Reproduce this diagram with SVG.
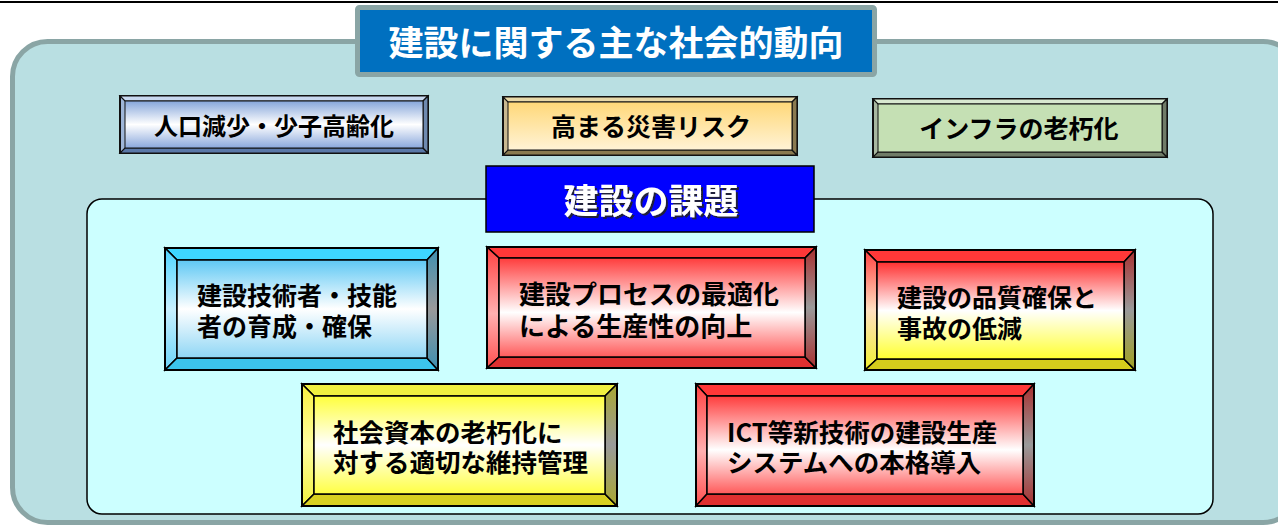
<svg xmlns="http://www.w3.org/2000/svg" width="1278" height="526" viewBox="0 0 1278 526">
<defs>
<style>
.t{font-family:"Noto Sans CJK JP","Noto Sans",sans-serif;font-weight:bold;fill:#000}
.tw{font-family:"Noto Sans CJK JP","Noto Sans",sans-serif;font-weight:bold;fill:#fff}
.bv{stroke:#000;stroke-width:1.5;stroke-linejoin:miter}
.fr{stroke:#111;stroke-width:1.2}
</style>
<linearGradient id="gBlueFace" x1="0" y1="0" x2="0" y2="1"><stop offset="0" stop-color="#5ec8f4"/><stop offset="0.5" stop-color="#ffffff"/><stop offset="1" stop-color="#8fd6f5"/></linearGradient>
<linearGradient id="gRedFace" x1="0" y1="0" x2="0" y2="1"><stop offset="0" stop-color="#ff3c3c"/><stop offset="0.55" stop-color="#ffffff"/><stop offset="1" stop-color="#ff5a5a"/></linearGradient>
<linearGradient id="gRYFace" x1="0" y1="0" x2="0" y2="1"><stop offset="0" stop-color="#ff3030"/><stop offset="0.5" stop-color="#ffffff"/><stop offset="1" stop-color="#ffff30"/></linearGradient>
<linearGradient id="gYFace" x1="0" y1="0" x2="0" y2="1"><stop offset="0" stop-color="#ffff3c"/><stop offset="0.5" stop-color="#ffffff"/><stop offset="1" stop-color="#ffff44"/></linearGradient>
<linearGradient id="gBlueR" x1="0" y1="0" x2="0" y2="1"><stop offset="0" stop-color="#3d8fb0"/><stop offset="0.5" stop-color="#9a9a9a"/><stop offset="1" stop-color="#3d8fb0"/></linearGradient>
<linearGradient id="gRedR" x1="0" y1="0" x2="0" y2="1"><stop offset="0" stop-color="#a83030"/><stop offset="0.5" stop-color="#9a9a9a"/><stop offset="1" stop-color="#a83030"/></linearGradient>
<linearGradient id="gRYR" x1="0" y1="0" x2="0" y2="1"><stop offset="0" stop-color="#a83030"/><stop offset="0.5" stop-color="#9a9a9a"/><stop offset="1" stop-color="#a0a020"/></linearGradient>
<linearGradient id="gYR" x1="0" y1="0" x2="0" y2="1"><stop offset="0" stop-color="#a8a830"/><stop offset="0.5" stop-color="#9a9a9a"/><stop offset="1" stop-color="#a8a830"/></linearGradient>
<linearGradient id="gBlueL" x1="0" y1="0" x2="0" y2="1"><stop offset="0" stop-color="#4cd4ff"/><stop offset="0.5" stop-color="#c8f0ff"/><stop offset="1" stop-color="#6cd4f8"/></linearGradient>
<linearGradient id="gRedL" x1="0" y1="0" x2="0" y2="1"><stop offset="0" stop-color="#ff4040"/><stop offset="0.55" stop-color="#ffb0b0"/><stop offset="1" stop-color="#ff5050"/></linearGradient>
<linearGradient id="gRYL" x1="0" y1="0" x2="0" y2="1"><stop offset="0" stop-color="#ff4040"/><stop offset="0.5" stop-color="#ffe0c0"/><stop offset="1" stop-color="#f0f030"/></linearGradient>
<linearGradient id="gYL" x1="0" y1="0" x2="0" y2="1"><stop offset="0" stop-color="#f8f040"/><stop offset="0.5" stop-color="#ffffa0"/><stop offset="1" stop-color="#f0f040"/></linearGradient>
<linearGradient id="g1Face" x1="0" y1="0" x2="0" y2="1"><stop offset="0" stop-color="#86a6da"/><stop offset="0.5" stop-color="#ffffff"/><stop offset="1" stop-color="#8aa8dc"/></linearGradient>
<linearGradient id="g2Face" x1="0" y1="0" x2="0" y2="1"><stop offset="0" stop-color="#ffd878"/><stop offset="1" stop-color="#fff3d6"/></linearGradient>
<filter id="sh" x="-10%" y="-10%" width="120%" height="130%"><feDropShadow dx="2" dy="2" stdDeviation="0.6" flood-color="#222" flood-opacity="0.9"/></filter>
</defs>

<line x1="0" y1="2" x2="1278" y2="2" stroke="#000" stroke-width="2.2"/>

<g id="outer-panel">
<rect x="12.5" y="41.5" width="1285.5" height="481" rx="35" fill="#b9dfe2" stroke="#8aa5a5" stroke-width="5"/>
</g>

<g id="title-trends">
<rect x="357.5" y="7.5" width="517" height="67" rx="2" fill="#0070c0" stroke="#8aa5a5" stroke-width="5"/>
<text class="tw" x="616" y="55.5" font-size="35" text-anchor="middle">建設に関する主な社会的動向</text>
</g>

<g id="trend-population">
<rect x="120" y="96" width="308" height="57" fill="#9fb6d8" stroke="#111" stroke-width="2"/>
<polygon points="120,96 428,96 423,101 125,101" fill="#c8d8f0" class="fr"/>
<polygon points="120,153 428,153 423,148 125,148" fill="#5a78a8" class="fr"/>
<polygon points="428,96 428,153 423,148 423,101" fill="#6f8ab0" class="fr"/>
<rect x="125" y="101" width="298" height="47" fill="url(#g1Face)" stroke="#111" stroke-width="1"/>
<text class="t" x="274" y="134.5" font-size="24" text-anchor="middle">人口減少・少子高齢化</text>
</g>

<g id="trend-disaster">
<rect x="503" y="97" width="294" height="58" fill="#c8b890" stroke="#111" stroke-width="2"/>
<polygon points="503,97 797,97 792,102 508,102" fill="#e8d8a8" class="fr"/>
<polygon points="503,155 797,155 792,150 508,150" fill="#8a7a50" class="fr"/>
<polygon points="797,97 797,155 792,150 792,102" fill="#8a7a50" class="fr"/>
<rect x="508" y="102" width="284" height="48" fill="url(#g2Face)" stroke="#111" stroke-width="1"/>
<text class="t" x="651" y="136" font-size="25" text-anchor="middle">高まる災害リスク</text>
</g>

<g id="trend-infra">
<rect x="873" y="99" width="294" height="58" fill="#a8b8a0" stroke="#111" stroke-width="2"/>
<polygon points="873,99 1167,99 1162,104 878,104" fill="#d8e8d0" class="fr"/>
<polygon points="873,157 1167,157 1162,152 878,152" fill="#707c68" class="fr"/>
<polygon points="1167,99 1167,157 1162,152 1162,104" fill="#707c68" class="fr"/>
<rect x="878" y="104" width="284" height="48" fill="#c5e0b4" stroke="#111" stroke-width="1"/>
<text class="t" x="1019" y="138" font-size="25" text-anchor="middle">インフラの老朽化</text>
</g>

<g id="issues-panel">
<rect x="87" y="199" width="1126" height="315" rx="15" fill="#ccffff" stroke="#000" stroke-width="1.5"/>
</g>

<g id="title-issues">
<rect x="486" y="166" width="328" height="66" fill="#0000ff" stroke="#000" stroke-width="1.5"/>
<text class="tw" x="651" y="214" font-size="35" text-anchor="middle" filter="url(#sh)">建設の課題</text>
</g>

<g id="issue-workers">
<polygon class="bv" points="165,248 438,248 427,260 177,260" fill="#3ed6ff"/>
<polygon class="bv" points="165,248 177,260 177,358 165,370" fill="url(#gBlueL)"/>
<polygon class="bv" points="165,370 177,358 427,358 438,370" fill="#3cc4ec"/>
<polygon class="bv" points="438,248 438,370 427,358 427,260" fill="url(#gBlueR)"/>
<rect class="bv" x="177" y="260" width="250" height="98" fill="url(#gBlueFace)"/>
<rect x="165" y="248" width="273" height="122" fill="none" stroke="#000" stroke-width="2"/>
<text class="t" font-size="25"><tspan x="197" y="305">建設技術者・技能</tspan><tspan x="197" y="336">者の育成・確保</tspan></text>
</g>

<g id="issue-process">
<polygon class="bv" points="487,247 816,247 805,258 499,258" fill="#ff3838"/>
<polygon class="bv" points="487,247 499,258 499,357 487,368" fill="url(#gRedL)"/>
<polygon class="bv" points="487,368 499,357 805,357 816,368" fill="#e03030"/>
<polygon class="bv" points="816,247 816,368 805,357 805,258" fill="url(#gRedR)"/>
<rect class="bv" x="499" y="258" width="306" height="99" fill="url(#gRedFace)"/>
<rect x="487" y="247" width="329" height="121" fill="none" stroke="#000" stroke-width="2"/>
<text class="t" font-size="26"><tspan x="519" y="304">建設プロセスの最適化</tspan><tspan x="519" y="336">による生産性の向上</tspan></text>
</g>

<g id="issue-quality">
<polygon class="bv" points="865,250 1135,250 1124,262 877,262" fill="#ff3838"/>
<polygon class="bv" points="865,250 877,262 877,359 865,370" fill="url(#gRYL)"/>
<polygon class="bv" points="865,370 877,359 1124,359 1135,370" fill="#d4cc1c"/>
<polygon class="bv" points="1135,250 1135,370 1124,359 1124,262" fill="url(#gRYR)"/>
<rect class="bv" x="877" y="262" width="247" height="97" fill="url(#gRYFace)"/>
<rect x="865" y="250" width="270" height="120" fill="none" stroke="#000" stroke-width="2"/>
<text class="t" font-size="25"><tspan x="897" y="307">建設の品質確保と</tspan><tspan x="897" y="337.5">事故の低減</tspan></text>
</g>

<g id="issue-maintenance">
<polygon class="bv" points="302,384 617,384 605,396 314,396" fill="#f0f040"/>
<polygon class="bv" points="302,384 314,396 314,494 302,506" fill="url(#gYL)"/>
<polygon class="bv" points="302,506 314,494 605,494 617,506" fill="#d8d020"/>
<polygon class="bv" points="617,384 617,506 605,494 605,396" fill="url(#gYR)"/>
<rect class="bv" x="314" y="396" width="291" height="98" fill="url(#gYFace)"/>
<rect x="302" y="384" width="315" height="122" fill="none" stroke="#000" stroke-width="2"/>
<text class="t" font-size="25.5"><tspan x="333" y="442">社会資本の老朽化に</tspan><tspan x="333" y="472">対する適切な維持管理</tspan></text>
</g>

<g id="issue-ict">
<polygon class="bv" points="696,384 1034,384 1023,396 707,396" fill="#ff3838"/>
<polygon class="bv" points="696,384 707,396 707,494 696,506" fill="url(#gRedL)"/>
<polygon class="bv" points="696,506 707,494 1023,494 1034,506" fill="#e03030"/>
<polygon class="bv" points="1034,384 1034,506 1023,494 1023,396" fill="url(#gRedR)"/>
<rect class="bv" x="707" y="396" width="316" height="98" fill="url(#gRedFace)"/>
<rect x="696" y="384" width="338" height="122" fill="none" stroke="#000" stroke-width="2"/>
<text class="t" font-size="25.5"><tspan x="727" y="442">ICT等新技術の建設生産</tspan><tspan x="727" y="472">システムへの本格導入</tspan></text>
</g>

<g id="connectors"></g>
</svg>
